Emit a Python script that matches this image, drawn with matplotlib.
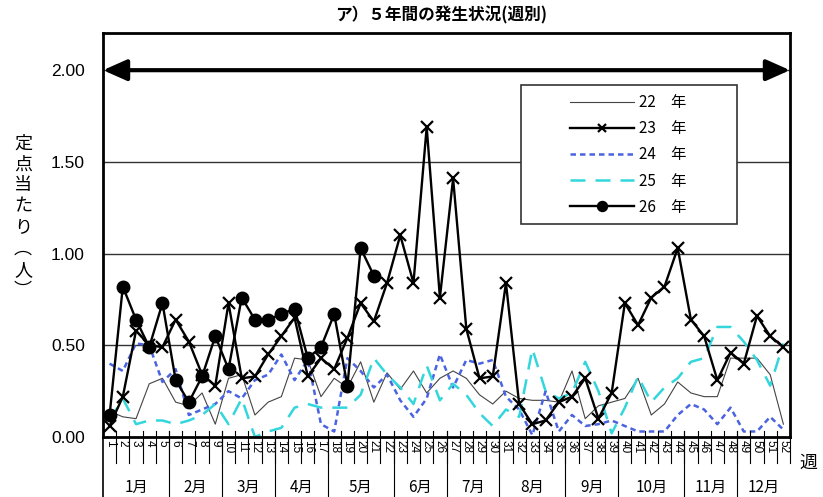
import numpy as np
import matplotlib
matplotlib.use('Agg')
import matplotlib.pyplot as plt
from matplotlib.patches import Rectangle

plt.rcParams['font.family'] = ['Noto Sans CJK JP', 'DejaVu Sans']

weeks = np.arange(1, 53)
y22 = [0.14, 0.11, 0.10, 0.29, 0.32, 0.19, 0.17, 0.24, 0.07, 0.32,
       0.34, 0.12, 0.19, 0.22, 0.43, 0.42, 0.22, 0.32, 0.27, 0.41,
       0.19, 0.35, 0.26, 0.36, 0.24, 0.32, 0.36, 0.32, 0.23, 0.18,
       0.25, 0.21, 0.20, 0.20, 0.19, 0.36, 0.10, 0.17, 0.19, 0.21,
       0.32, 0.12, 0.18, 0.30, 0.24, 0.22, 0.22, 0.43, 0.43, 0.43,
       0.34, 0.07]
y23 = [0.06, 0.22, 0.58, 0.50, 0.49, 0.64, 0.52, 0.34, 0.28, 0.73,
       0.32, 0.33, 0.45, 0.55, 0.65, 0.33, 0.43, 0.37, 0.54, 0.73,
       0.63, 0.84, 1.10, 0.84, 1.69, 0.76, 1.41, 0.59, 0.32, 0.33,
       0.84, 0.18, 0.07, 0.09, 0.19, 0.22, 0.32, 0.10, 0.24, 0.73,
       0.61, 0.76, 0.82, 1.03, 0.64, 0.55, 0.31, 0.46, 0.40, 0.66,
       0.55, 0.49]
y24 = [0.40, 0.36, 0.51, 0.50, 0.30, 0.37, 0.12, 0.15, 0.18, 0.25,
       0.21, 0.31, 0.34, 0.45, 0.31, 0.42, 0.07, 0.03, 0.43, 0.36,
       0.27, 0.34, 0.20, 0.11, 0.21, 0.45, 0.27, 0.42, 0.40, 0.42,
       0.22, 0.15, 0.01, 0.25, 0.03, 0.12, 0.06, 0.07, 0.09, 0.06,
       0.03, 0.03, 0.03, 0.12, 0.18, 0.15, 0.07, 0.16, 0.03, 0.03,
       0.11, 0.04]
y25 = [0.09, 0.21, 0.07, 0.09, 0.09, 0.07, 0.09, 0.12, 0.18, 0.07,
       0.21, 0.00, 0.03, 0.05, 0.16, 0.18, 0.16, 0.16, 0.16, 0.23,
       0.43, 0.34, 0.27, 0.18, 0.39, 0.20, 0.29, 0.23, 0.13, 0.06,
       0.15, 0.11, 0.48, 0.25, 0.21, 0.24, 0.41, 0.25, 0.02, 0.16,
       0.33, 0.19, 0.27, 0.32, 0.41, 0.43, 0.60, 0.60, 0.52, 0.42,
       0.28, 0.51]
y26 = [0.12, 0.82, 0.64, 0.49, 0.73, 0.31, 0.19, 0.33, 0.55, 0.37,
       0.76, 0.64, 0.64, 0.67, 0.70, 0.43, 0.49, 0.67, 0.28, 1.03,
       0.88]

years = ['22', '23', '24', '25', '26']
months = ['1月', '2月', '3月', '4月', '5月', '6月', '7月', '8月', '9月', '10月', '11月', '12月']
month_last_week = [5, 9, 13, 17, 22, 26, 30, 35, 39, 44, 48, 52]
yticks = [0.0, 0.5, 1.0, 1.5, 2.0]

fig = plt.figure(figsize=(8.23, 4.97), dpi=100)
ax = fig.add_axes([103/823, 1-437/497, 687/823, 403.5/497])
ax.set_xlim(0.5, 52.5)
ax.set_ylim(0, 2.2)

for v in yticks[1:]:
    ax.axhline(v, color='#333333', lw=1.0, zorder=1)

l22, = ax.plot(weeks, y22, color='#444444', lw=0.8, zorder=2)
l24, = ax.plot(weeks, y24, color='#4a63e0', lw=1.8, dashes=(2.2, 1.6), zorder=2)
l25, = ax.plot(weeks, y25, color='#33d6dc', lw=1.8, dashes=(6, 4), zorder=2)
l23, = ax.plot(weeks, y23, color='black', lw=1.7, marker='x', ms=8, mew=1.6, zorder=3)
l26, = ax.plot(weeks[:len(y26)], y26, color='black', lw=1.7, marker='o', ms=9, zorder=3)

ax.annotate('', xy=(52.5, 2.0), xytext=(0.5, 2.0),
            arrowprops=dict(arrowstyle='<|-|>,head_length=0.9,head_width=0.4',
                            mutation_scale=16, lw=3, color='black',
                            shrinkA=0, shrinkB=0), zorder=4)

for s in ax.spines.values():
    s.set_linewidth(2)
ax.set_xticks([])
ax.set_yticks(yticks)
ax.set_yticklabels(['%.2f' % v for v in yticks], family='Liberation Sans', fontsize=12.5)
ax.tick_params(axis='y', length=0, pad=13)

# legend box
ax.add_patch(Rectangle((0.608, 0.528), 0.315, 0.344, transform=ax.transAxes,
                       facecolor='white', edgecolor='#333333', lw=1.2, zorder=4.5))
leg = ax.legend([l22, l23, l24, l25, l26], [y + '　年' for y in years],
                loc='upper left', bbox_to_anchor=(0.66, 0.884), frameon=False,
                fontsize=11, handlelength=4.2, handletextpad=0.3, labelspacing=0.6,
                markerscale=0.8)
leg.set_zorder(5)

# week / month table under the axis
trans = ax.get_xaxis_transform()
for w in weeks:
    ax.text(w, -0.008, str(w), transform=trans, rotation=-90, ha='center', va='top',
            family='Liberation Sans', fontsize=8.5)
for b in np.arange(1.5, 53, 1.0):
    ax.plot([b, b], [0.015, -0.064], transform=trans, color='black', lw=0.8, clip_on=False)
ax.plot([0.5, 0.5], [0, -0.15], transform=trans, color='black', lw=1.2, clip_on=False)
start = 0.5
for m, last in zip(months, month_last_week):
    end = last + 0.5
    if last != 52:
        ax.plot([end, end], [0.015, -0.15], transform=trans, color='black', lw=0.8, clip_on=False)
    ax.text((start + end) / 2, -0.124, m, transform=trans, ha='center', va='center', fontsize=11)
    start = end

fig.text(808/823, 1-463/497, '週', ha='center', va='center', fontsize=13)
fig.text(23/823, 1-217/497, '\n'.join(['定', '点', '当', 'た', 'り', '︵', '人', '︶']),
         ha='center', va='center', fontsize=13, linespacing=1.22)
fig.text(441/823, 1-15/497, 'ア）５年間の発生状況(週別)', ha='center', va='center',
         fontsize=12, fontweight='bold')

fig.savefig('out.png', dpi=100)
